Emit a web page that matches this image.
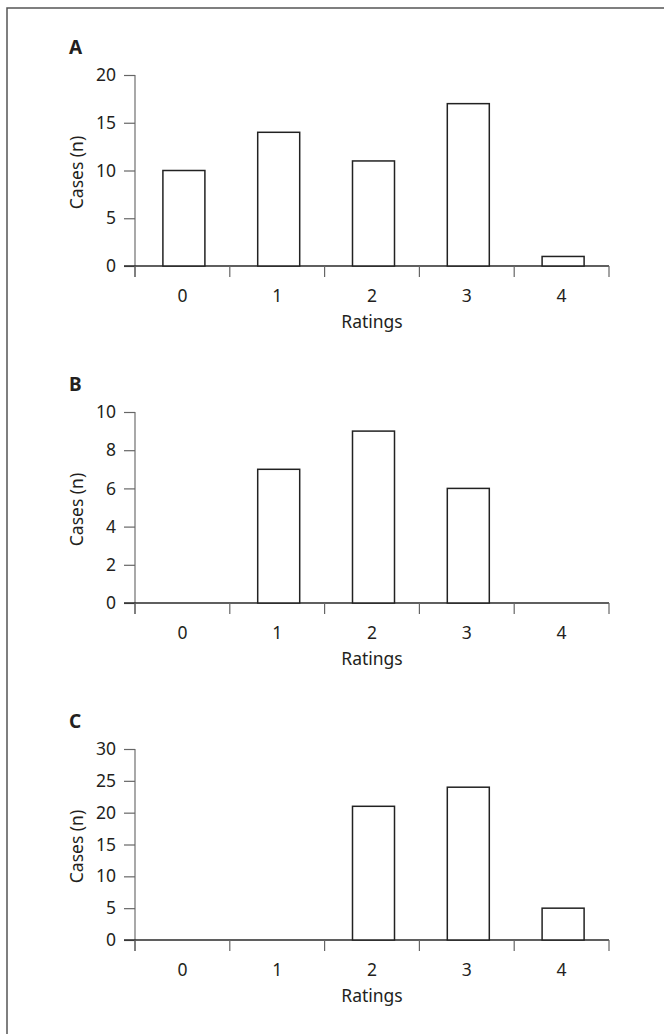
<!DOCTYPE html>
<html>
<head>
<meta charset="utf-8">
<script src="https://cdn.jsdelivr.net/npm/d3@7"></script>
<style>
  body { margin: 0; background: #fff; }
  svg { display: block; }
  text { font-family: "Noto Sans", "Open Sans", sans-serif; fill: #231f20; }
</style>
</head>
<body>
<div id="chart"></div>
<script>
const ratings = ["0", "1", "2", "3", "4"];
const panelLabels = ["A", "B", "C"];
const casesA = [10, 14, 11, 17, 1];
const casesB = [0, 7, 9, 6, 0];
const casesC = [0, 0, 21, 24, 5];
const yMaxes = [20, 10, 30];
const yTickSteps = [5, 2, 5];

const panels = [casesA, casesB, casesC].map((values, i) => ({
  label: panelLabels[i],
  values,
  yMax: yMaxes[i],
  step: yTickSteps[i],
}));

const width = 664;
const height = 1034;
const margin = { left: 135, right: 55 };
const panelTop = 75;
const panelStep = 337;
const plotHeight = 191;
const tickSize = 11;
const fontSize = 17.5;

const svg = d3
  .select("#chart")
  .append("svg")
  .attr("width", width)
  .attr("height", height)
  .attr("viewBox", [0, 0, width, height]);

// figure frame (runs off the right and bottom edges)
svg
  .append("rect")
  .attr("x", 7)
  .attr("y", 8)
  .attr("width", width + 20)
  .attr("height", height + 20)
  .attr("fill", "none")
  .attr("stroke", "#555")
  .attr("stroke-width", 1.5);

const x = d3
  .scaleBand()
  .domain(ratings)
  .range([margin.left, width - margin.right])
  .padding(0);
const barWidth = 42;

panels.forEach((p, i) => {
  const top = panelTop + i * panelStep;
  const y = d3
    .scaleLinear()
    .domain([0, p.yMax])
    .range([top + plotHeight, top]);
  const g = svg.append("g").attr("class", "panel");

  g.append("text")
    .attr("x", 69)
    .attr("y", top - 21)
    .attr("font-size", 19)
    .attr("font-weight", "bold")
    .text(p.label);

  // y axis
  const gY = g
    .append("g")
    .attr("transform", `translate(${margin.left},0)`)
    .call(
      d3
        .axisLeft(y)
        .tickValues(d3.range(0, p.yMax + 0.1, p.step))
        .tickSize(tickSize)
        .tickPadding(8)
        .tickSizeOuter(0)
    );
  gY.select(".domain").attr("stroke", "#7a7a7a").attr("stroke-width", 1.3)
    .attr("d", `M0,${y(p.yMax)}V${y(0) + tickSize}`);
  gY.selectAll(".tick line").attr("stroke", "#666").attr("stroke-width", 1.2);
  gY.selectAll(".tick text")
    .attr("font-size", fontSize)
    .attr("font-family", null)
    .attr("fill", "#231f20");

  g.append("text")
    .attr("transform", `translate(83,${top + plotHeight / 2 + 2}) rotate(-90)`)
    .attr("text-anchor", "middle")
    .attr("font-size", fontSize)
    .text("Cases (n)");

  // x axis: ticks at category boundaries
  const edges = ratings.map((d) => x(d)).concat([x.range()[1]]);
  const gX = g.append("g").attr("transform", `translate(0,${y(0)})`);
  gX.append("line")
    .attr("x1", margin.left - tickSize)
    .attr("x2", x.range()[1])
    .attr("stroke", "#2a2a2a")
    .attr("stroke-width", 1.4);
  gX.selectAll(".edge")
    .data(edges)
    .join("line")
    .attr("class", "edge")
    .attr("x1", (d) => d)
    .attr("x2", (d) => d)
    .attr("y2", tickSize)
    .attr("stroke", "#666")
    .attr("stroke-width", 1.2);
  gX.selectAll(".cat")
    .data(ratings)
    .join("text")
    .attr("class", "cat")
    .attr("x", (d) => x(d) + x.bandwidth() / 2)
    .attr("y", 36)
    .attr("text-anchor", "middle")
    .attr("font-size", fontSize)
    .text((d) => d);
  gX.append("text")
    .attr("x", (x.range()[0] + x.range()[1]) / 2)
    .attr("y", 62)
    .attr("text-anchor", "middle")
    .attr("font-size", fontSize)
    .text("Ratings");

  // bars
  g.selectAll(".bar")
    .data(p.values.map((v, j) => ({ rating: ratings[j], value: v })).filter((d) => d.value > 0))
    .join("rect")
    .attr("class", "bar")
    .attr("x", (d) => x(d.rating) + (x.bandwidth() - barWidth) / 2 + 1.5)
    .attr("y", (d) => y(d.value))
    .attr("width", barWidth)
    .attr("height", (d) => y(0) - y(d.value))
    .attr("fill", "#fff")
    .attr("stroke", "#222")
    .attr("stroke-width", 1.5);
});
</script>
</body>
</html>
